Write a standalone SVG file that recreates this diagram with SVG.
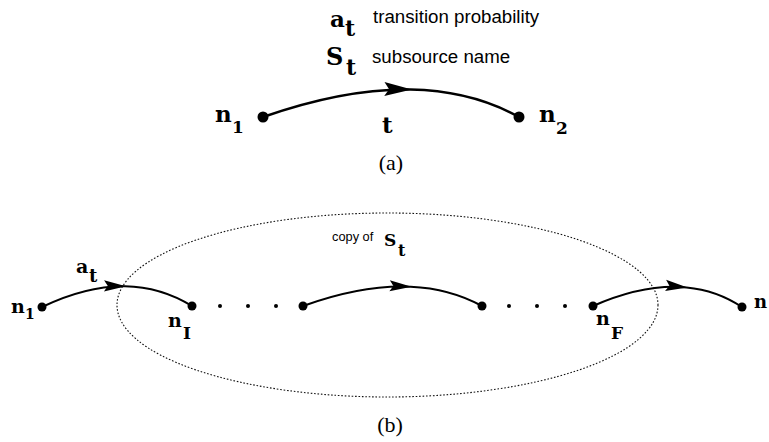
<svg xmlns="http://www.w3.org/2000/svg" width="769" height="442" viewBox="0 0 769 442">
<style>
.m{font-family:"DejaVu Serif","Liberation Serif",serif;font-weight:bold;fill:#000}
.s{font-family:"Liberation Sans",Arial,sans-serif;fill:#000}
.r{font-family:"Liberation Serif","Times New Roman",serif;fill:#000}
.arc{fill:none;stroke:#000;marker-mid:url(#ah)}
.dot{fill:#000}
</style>
<defs>
<marker id="ah" markerUnits="strokeWidth" orient="auto" viewBox="-11 -3.5 12 7" refX="0" refY="0" markerWidth="12" markerHeight="7">
<path d="M0.5,0 L-10.5,-2.8 L-8.6,0 L-10.5,2.8 Z" fill="#000"/>
</marker>
</defs>
<rect width="769" height="442" fill="#fff"/>

<g id="legend">
<text class="m" x="330" y="27" font-size="23">a</text>
<text class="m" x="345" y="36" font-size="22">t</text>
<text class="s" x="373" y="23" font-size="18.7">transition probability</text>
<text class="m" x="326" y="65" font-size="24">S</text>
<text class="m" x="346" y="75" font-size="22">t</text>
<text class="s" x="372" y="63" font-size="18.7">subsource name</text>
</g>

<g id="subsource-copy">
<ellipse cx="387.5" cy="305" rx="270.5" ry="92" fill="none" stroke="#111" stroke-width="1.1" stroke-dasharray="1.6 1.8"/>
<text class="s" x="332" y="241" font-size="12.8">copy of</text>
<text class="m" x="384" y="246" font-size="17">S</text>
<text class="m" x="398" y="256" font-size="16">t</text>
</g>

<g id="connectors">
<path class="arc" stroke-width="2.5" d="M263,117 Q344.6,88.4 410.6,89.5 Q471.5,90.6 519,117"/>
<path class="arc" stroke-width="2" d="M42,307 Q86.2,285.7 125,286.2 Q160.8,286.8 192,306"/>
<path class="arc" stroke-width="2" d="M303,306 Q362.4,284.55 410.6,286.7 Q450.05,288.45 482,306"/>
<path class="arc" stroke-width="2" d="M593,306 Q644.6,283.4 686.5,287.4 Q716.8,290.2 742,307"/>
</g>

<g id="a-n1">
<circle class="dot" cx="263" cy="117" r="5.5"/>
<text class="m" x="215" y="122" font-size="23">n</text>
<text class="m" x="232" y="133" font-size="17">1</text>
</g>
<g id="a-n2">
<circle class="dot" cx="519" cy="117" r="5.5"/>
<text class="m" x="539" y="122" font-size="23">n</text>
<text class="m" x="556" y="134" font-size="17">2</text>
</g>
<g id="a-t-label">
<text class="m" x="382" y="133" font-size="23">t</text>
</g>
<text class="r" x="391" y="170" font-size="22" text-anchor="middle">(a)</text>

<g id="b-n1">
<circle class="dot" cx="42" cy="307" r="4.5"/>
<text class="m" x="11" y="313" font-size="19">n</text>
<text class="m" x="25" y="319" font-size="14">1</text>
</g>
<g id="b-at-label">
<text class="m" x="76" y="273" font-size="19">a</text>
<text class="m" x="89" y="282" font-size="18">t</text>
</g>
<g id="b-nI">
<circle class="dot" cx="192" cy="306" r="4.5"/>
<text class="m" x="168" y="327" font-size="19">n</text>
<text class="m" x="183" y="339" font-size="17">I</text>
</g>
<g id="b-dots1">
<circle class="dot" cx="220" cy="306" r="2"/>
<circle class="dot" cx="248" cy="306" r="2"/>
<circle class="dot" cx="276" cy="306" r="2"/>
</g>
<g id="b-m1">
<circle class="dot" cx="303" cy="306" r="4.5"/>
</g>
<g id="b-m2">
<circle class="dot" cx="482" cy="306" r="4.5"/>
</g>
<g id="b-dots2">
<circle class="dot" cx="509" cy="306" r="2"/>
<circle class="dot" cx="537" cy="306" r="2"/>
<circle class="dot" cx="565" cy="306" r="2"/>
</g>
<g id="b-nF">
<circle class="dot" cx="593" cy="306" r="4.5"/>
<text class="m" x="596" y="325" font-size="19">n</text>
<text class="m" x="611" y="339" font-size="17">F</text>
</g>
<g id="b-n">
<circle class="dot" cx="742" cy="307" r="4.5"/>
<text class="m" x="754" y="308" font-size="18">n</text>
</g>
<text class="r" x="390" y="432" font-size="22" text-anchor="middle">(b)</text>
</svg>
